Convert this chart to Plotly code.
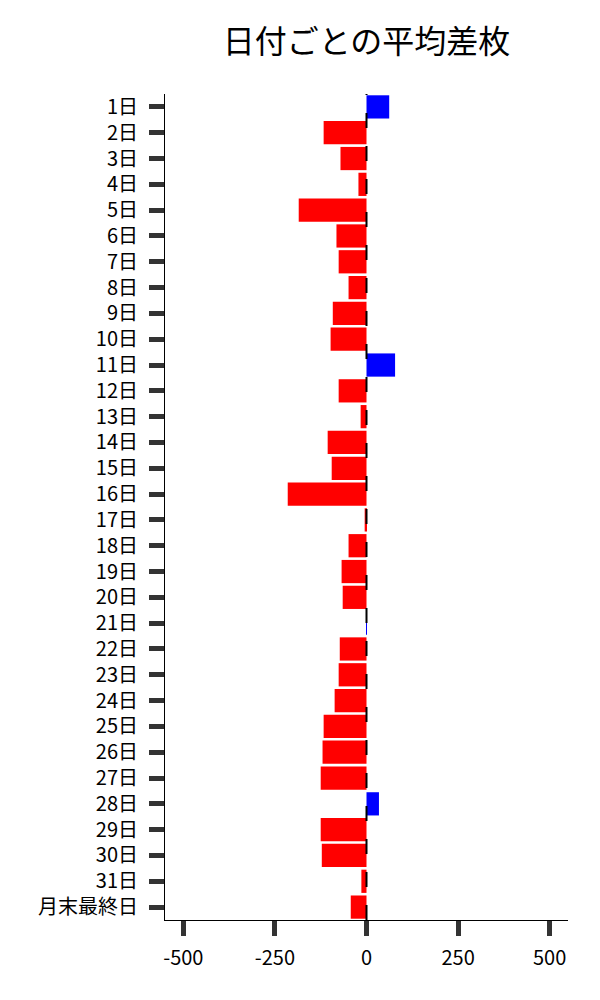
import plotly.graph_objects as go

days = [str(i) + "日" for i in range(1, 32)] + ["月末最終日"]
avg_diff = [62, -117, -71, -22, -185, -82, -76, -49, -92, -98,
            78, -76, -16, -106, -95, -215, -5, -49, -68, -65,
            1, -73, -76, -87, -117, -120, -125, 34, -125, -122,
            -14, -43]
x_ticks = [-500, -250, 0, 250, 500]
x_tick_text = ["-500", "-250", "0", "250", "500"]

colors = ["#0000ff" if v > 0 else "#ff0000" for v in avg_diff]

fig = go.Figure()
fig.add_trace(go.Bar(x=avg_diff, y=days, orientation="h",
                     marker=dict(color=colors, line=dict(width=0)),
                     showlegend=False))
# zero line
fig.add_vline(x=0, line=dict(color="black", width=2, dash="15px,18px"))

font_name = "Noto Sans CJK JP"
fig.update_layout(
    width=600, height=1000,
    paper_bgcolor="white", plot_bgcolor="white",
    margin=dict(l=157, r=40, t=86, b=88),
    bargap=0.1,
    font=dict(family=font_name, size=20, color="black"),
    title=dict(text="日付ごとの平均差枚", x=0.5, xref="paper", xanchor="center",
               y=0.966, yref="container", yanchor="middle",
               font=dict(family=font_name, size=32, color="black")),
)
fig.update_xaxes(range=[-550, 550], tickvals=x_ticks, ticktext=x_tick_text,
                 showgrid=False, zeroline=False, showline=True, linecolor="black", linewidth=1,
                 ticks="outside", ticklen=15, tickwidth=5, tickcolor="#333333",
                 ticklabelstandoff=5)
fig.update_yaxes(range=[31.5, -0.5], categoryorder="array", categoryarray=days,
                 showgrid=False, zeroline=False, showline=True, linecolor="black", linewidth=1,
                 ticks="outside", ticklen=15, tickwidth=5, tickcolor="#333333",
                 ticklabelstandoff=7)

fig.write_html("out.html")
